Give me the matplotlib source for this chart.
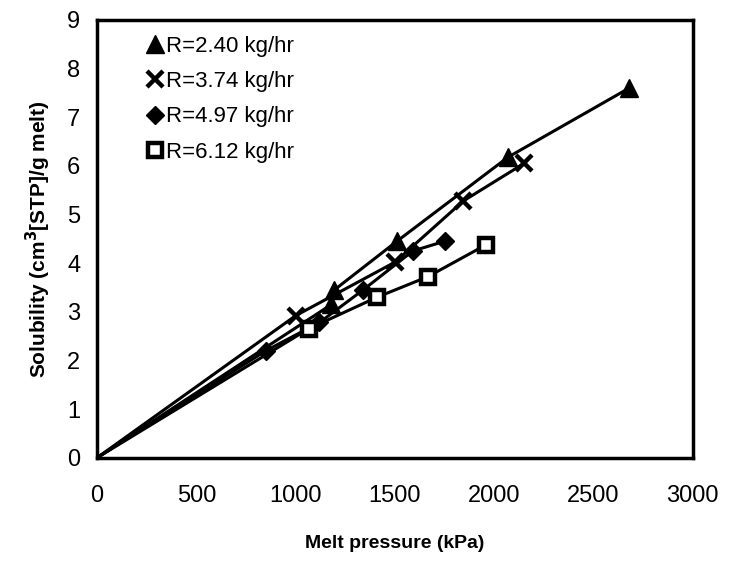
import numpy as np
import matplotlib
matplotlib.use("Agg")
import matplotlib.pyplot as plt

plt.rcParams['font.family'] = ['Liberation Sans', 'DejaVu Sans']

# melt pressure (kPa) and solubility (cm3[STP]/g melt) for each throughput
p_240 = [0, 1180, 1195, 1510, 2070, 2680]
s_240 = [0, 3.15, 3.45, 4.45, 6.18, 7.60]
p_374 = [0, 1000, 1500, 1845, 2150]
s_374 = [0, 2.92, 4.02, 5.28, 6.05]
p_497 = [0, 850, 1120, 1340, 1590, 1750]
s_497 = [0, 2.20, 2.78, 3.45, 4.25, 4.45]
p_612 = [0, 1065, 1410, 1665, 1960]
s_612 = [0, 2.65, 3.30, 3.72, 4.38]

labels = ["R=2.40 kg/hr", "R=3.74 kg/hr", "R=4.97 kg/hr", "R=6.12 kg/hr"]

fig = plt.figure(figsize=(7.3, 5.7), dpi=100)
ax = fig.add_axes([0.133, 0.197, 0.816, 0.768])

ax.plot(p_240, s_240, 'k-', lw=2.2, marker='^', ms=13, markevery=slice(1, None), label=labels[0])
ax.plot(p_374, s_374, 'k-', lw=2.2, marker='x', ms=11, mew=3.2, markevery=slice(1, None), label=labels[1])
ax.plot(p_497, s_497, 'k-', lw=2.2, marker='D', ms=9, markevery=slice(1, None), label=labels[2])
ax.plot(p_612, s_612, 'k-', lw=2.2, marker='s', ms=10, mfc='white', mew=3.2, markevery=slice(1, None), label=labels[3])

ax.set_xlim(0, 3000)
ax.set_ylim(0, 9)
ax.set_xticks(np.arange(0, 3001, 500))
ax.set_yticks(np.arange(0, 10, 1))
ax.tick_params(length=0, labelsize=17)
ax.tick_params(axis='x', pad=20)
ax.tick_params(axis='y', pad=12)
for s in ax.spines.values():
    s.set_linewidth(2.5)

ax.set_xlabel('Melt pressure (kPa)', fontsize=14, fontweight='bold', labelpad=20)
ax.set_ylabel('Solubility (cm$^\\mathbf{3}$[STP]/g melt)', fontsize=15, fontweight='bold', labelpad=10)

leg = ax.legend(loc='upper left', frameon=False, fontsize=16, handlelength=0.6, handletextpad=0.2,
                labelspacing=0.65, borderaxespad=0.3, bbox_to_anchor=(0.06, 1.0))
for h in leg.legend_handles:
    h.set_linestyle('none')

fig.savefig('out.png', dpi=100)
